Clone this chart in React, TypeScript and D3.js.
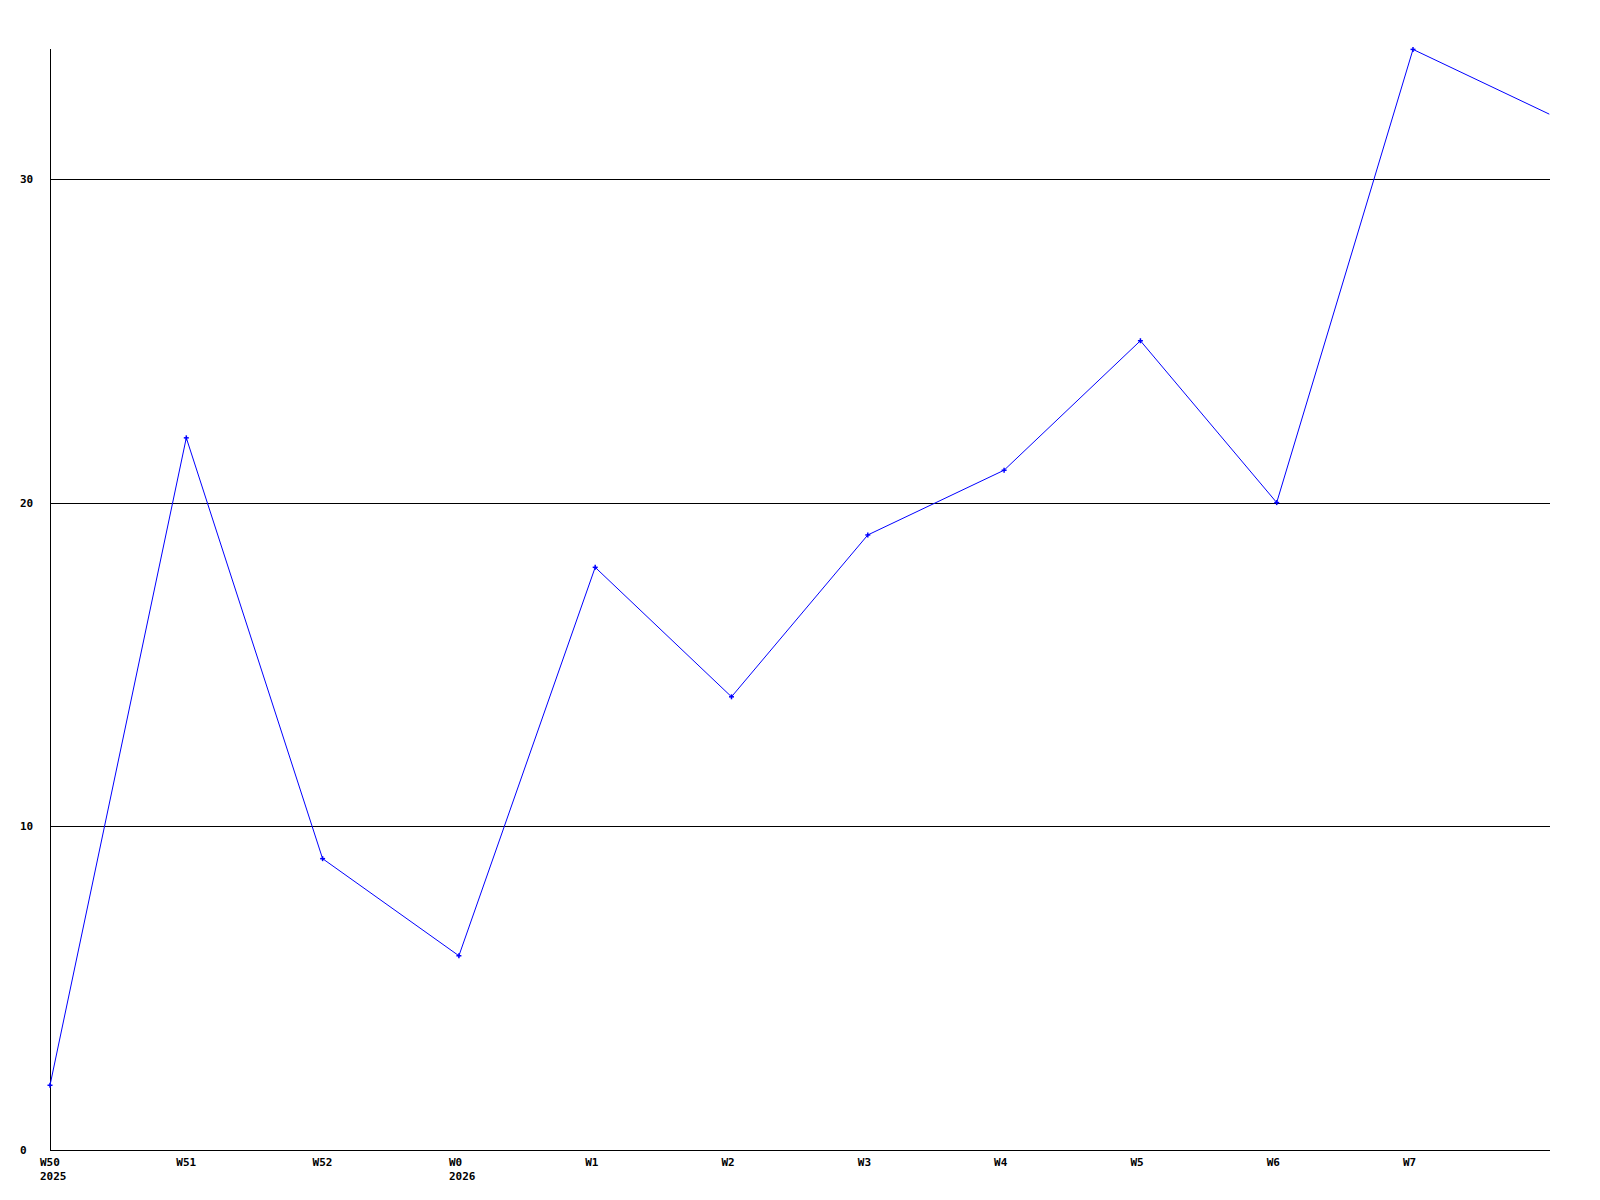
import React from "react";
import * as d3 from "d3";

const weeks = ["W50", "W51", "W52", "W0", "W1", "W2", "W3", "W4", "W5", "W6", "W7", "W8"];
const tickLabels = ["W50", "W51", "W52", "W0", "W1", "W2", "W3", "W4", "W5", "W6", "W7", ""];
const yearLabels = ["2025", "", "", "2026", "", "", "", "", "", "", "", ""];
const values = [2, 22, 9, 6, 18, 14, 19, 21, 25, 20, 34, 32];
const yTicks = [0, 10, 20, 30];

export default function App() {
  const W = 1600, H = 1200;
  const left = 50, right = 1550, top = 49.4, bottom = 1150;
  const x = d3.scalePoint<string>().domain(weeks).range([left, left + 136.3 * (weeks.length - 1)]);
  const y = d3.scaleLinear().domain([0, 34]).range([bottom, top]);
  const line = d3.line<number>().x((_, i) => x(weeks[i])!).y((d) => y(d));
  const font = "'DejaVu Sans Mono', monospace";
  return (
    <svg width={W} height={H} style={{ position: "absolute", left: 0, top: 0, background: "#fff" }}>
      <rect x={0} y={0} width={W} height={H} fill="#fff" />
      {yTicks.filter((t) => t > 0).map((t) => (
        <line key={t} x1={left} x2={right} y1={Math.round(y(t)) + 0.5} y2={Math.round(y(t)) + 0.5} stroke="#000" strokeWidth={1} shapeRendering="crispEdges" />
      ))}
      <line x1={left + 0.5} x2={left + 0.5} y1={top} y2={bottom} stroke="#000" strokeWidth={1} shapeRendering="crispEdges" />
      <line x1={left} x2={right} y1={bottom + 0.5} y2={bottom + 0.5} stroke="#000" strokeWidth={1} shapeRendering="crispEdges" />
      {yTicks.map((t) => (
        <text key={t} x={20} y={Math.round(y(t)) + 4} fontFamily={font} fontWeight="bold" fontSize={11} fill="#000">{t}</text>
      ))}
      {weeks.map((w, i) => (
        <g key={w}>
          {tickLabels[i] && (
            <text x={x(w)! - 10} y={1166} fontFamily={font} fontWeight="bold" fontSize={11} fill="#000">{tickLabels[i]}</text>
          )}
          {yearLabels[i] && (
            <text x={x(w)! - 10} y={1180} fontFamily={font} fontWeight="bold" fontSize={11} fill="#000">{yearLabels[i]}</text>
          )}
        </g>
      ))}
      <path d={line(values)!} fill="none" stroke="#0000ff" strokeWidth={1} />
      {values.slice(0, values.length - 1).map((v, i) => {
        const cx = x(weeks[i])!, cy = y(v);
        return (
          <g key={i} stroke="#0000ff" strokeWidth={1.5}>
            <line x1={cx - 2.5} x2={cx + 2.5} y1={cy} y2={cy} />
            <line x1={cx} x2={cx} y1={cy - 2.5} y2={cy + 2.5} />
          </g>
        );
      })}
    </svg>
  );
}
